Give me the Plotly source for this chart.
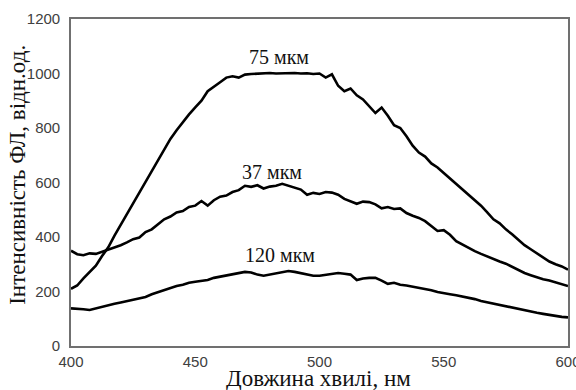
import numpy as np
import plotly.graph_objects as go

wavelength = [400 + 2.5 * i for i in range(81)]

i75 = [210, 222, 248, 272, 295, 330, 362, 405, 445, 482,
       522, 565, 602, 645, 683, 725, 760, 792, 822, 850,
       876, 900, 935, 950, 968, 985, 990, 985, 996, 998,
       1000, 1000, 1002, 1000, 1001, 1000, 1002, 1000, 1001, 998,
       1000, 985, 997, 955, 935, 945, 920, 905, 880, 855,
       875, 845, 810, 800, 770, 735, 710, 695, 670, 655,
       635, 615, 595, 578, 555, 537, 515, 490, 465, 450,
       428, 410, 390, 370, 355, 340, 325, 310, 300, 292,
       280]

i37 = [350, 337, 333, 340, 338, 346, 352, 362, 370, 380,
       392, 398, 418, 428, 448, 465, 475, 490, 495, 510,
       515, 532, 515, 535, 548, 552, 565, 572, 588, 584,
       590, 578, 585, 588, 595, 588, 580, 574, 555, 562,
       558, 565, 563, 555, 540, 532, 522, 530, 528, 520,
       505, 510, 503, 505, 488, 478, 470, 458, 440, 422,
       425, 408, 385, 372, 360, 348, 338, 328, 318, 310,
       302, 290, 278, 268, 260, 252, 245, 240, 233, 226,
       220]

i120 = [138, 137, 135, 132, 138, 145, 150, 155, 160, 165,
        170, 175, 180, 190, 198, 205, 212, 220, 225, 232,
        236, 240, 242, 250, 254, 258, 262, 266, 272, 270,
        262, 258, 262, 266, 270, 275, 272, 268, 262, 258,
        258, 262, 265, 268, 265, 262, 242, 248, 250, 250,
        240, 228, 232, 225, 222, 218, 215, 210, 205, 198,
        193, 190, 186, 182, 178, 172, 165, 160, 155, 150,
        145, 140, 135, 130, 126, 122, 118, 114, 110, 107,
        105]

labels = ["75 мкм", "37 мкм", "120 мкм"]
label_x = [483.5, 481, 484]
label_y = [1060, 638, 334]

x_ticks = [400, 450, 500, 550, 600]
y_ticks = [0, 200, 400, 600, 800, 1000, 1200]

x_title = "Довжина хвилі, нм"
y_title = "Інтенсивність ФЛ, відн.од."

fig = go.Figure()
for ys in (i75, i37, i120):
    fig.add_trace(go.Scatter(x=wavelength, y=ys, mode="lines",
                             line=dict(color="black", width=2.6),
                             showlegend=False))

for t, lx, ly in zip(labels, label_x, label_y):
    fig.add_annotation(x=lx, y=ly, text=t, showarrow=False,
                       font=dict(family="Liberation Serif", size=20, color="#111"))

title_font = dict(family="Liberation Serif", size=23, color="#111")
fig.add_annotation(xref="paper", yref="paper", x=0.497, y=-0.098, text=x_title,
                   showarrow=False, font=title_font, xanchor="center", yanchor="middle")
fig.add_annotation(xref="paper", yref="paper", x=-0.107, y=0.523, text=y_title,
                   showarrow=False, font=title_font, textangle=-90,
                   xanchor="center", yanchor="middle")

axis_common = dict(showline=True, mirror=True, linecolor="#707070", linewidth=1.6,
                   showgrid=False, zeroline=False, ticks="", automargin=False,
                   ticklabeloverflow="allow",
                   tickfont=dict(family="Liberation Sans", size=15, color="#404040"))

fig.update_xaxes(range=[400, 600], tickvals=x_ticks, ticklabelstandoff=1, **axis_common)
fig.update_yaxes(range=[0, 1200], tickvals=y_ticks, ticklabelstandoff=6, **axis_common)

fig.update_layout(width=576, height=390,
                  margin=dict(l=71, r=8, t=19, b=44, autoexpand=False),
                  paper_bgcolor="white", plot_bgcolor="white")

fig.write_html("out.html")
